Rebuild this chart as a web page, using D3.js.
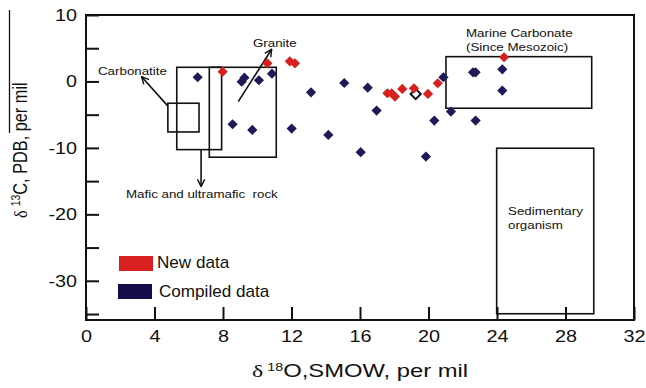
<!DOCTYPE html>
<html>
<head>
<meta charset="utf-8">
<script src="https://cdn.jsdelivr.net/npm/d3@7"></script>
<style>
  body { margin: 0; background: #fff; }
  svg { display: block; font-family: "Liberation Sans", Arial, sans-serif; }
</style>
</head>
<body>
<svg id="chart" width="646" height="388"></svg>
<script>
// new data (red)
var newX = [7.98, 10.59, 11.9, 12.2, 17.6, 17.85, 18.04, 18.47, 19.15, 19.97, 20.54, 24.41];
var newY = [1.47, 2.73, 3.03, 2.73, -1.78, -1.78, -2.28, -1.13, -1.03, -1.88, -0.27, 3.64];

// compiled data (navy)
var compX = [6.52, 9.25, 9.09, 10.1, 10.86, 13.14, 15.08, 8.56, 9.71, 12.01, 14.15, 16.45,
             16.97, 16.04, 20.87, 22.6, 22.75, 24.31, 24.31, 21.31, 20.34, 22.75, 19.85];
var compY = [0.63, 0.57, -0.03, 0.18, 1.17, -1.63, -0.23, -6.44, -7.29, -7.09, -8.05, -0.93,
             -4.39, -10.65, 0.63, 1.38, 1.38, 1.83, -1.38, -4.54, -5.89, -5.89, -11.3];

// one odd outlined point
var oddX = [19.25];
var oddY = [-1.88];

// reference fields
var fieldNames = ["Carbonatite", "Mafic", "Granite", "Marine", "Sedimentary"];
var fieldX0 = [4.78, 5.3, 7.2, 21.02, 23.98];
var fieldX1 = [6.6, 7.92, 11.11, 29.53, 29.65];
var fieldY0 = [-3.28, 2.13, 2.13, 3.73, -10.05];
var fieldY1 = [-7.6, -10.26, -11.4, -4.03, -34.96];

var xTicks = [0, 4, 8, 12, 16, 20, 24, 28, 32];
var yTicks = [-35, -30, -25, -20, -15, -10, -5, 0, 5, 10];
var yLabels = [-30, -20, -10, 0, 10];

var red = "#d8201e";
var navy = "#1c1b57";

var svg = d3.select("#chart");

var x = d3.scaleLinear().domain([0, 32]).range([86, 634]);
var y = d3.scaleLinear().domain([-35.9, 10]).range([320, 15]);

// the source picture is a bit stretched sideways, so text gets widened
var sx = 1.2;

// axes with inward ticks
var xAxis = d3.axisBottom(x).tickValues(xTicks).tickSizeInner(-13).tickSizeOuter(0).tickPadding(10);
var yAxis = d3.axisLeft(y).tickValues(yTicks).tickSizeInner(-13).tickSizeOuter(0).tickPadding(9)
	.tickFormat(function(d) { return yLabels.indexOf(d) >= 0 ? d : ""; });

var gx = svg.append("g").attr("transform", "translate(0,320)").call(xAxis);
var gy = svg.append("g").attr("transform", "translate(86,0)").call(yAxis);
[gx, gy].forEach(function(g) {
	g.select(".domain").remove();
	g.selectAll(".tick line").attr("stroke", "#111").attr("stroke-width", 2);
	g.selectAll(".tick text").attr("fill", "#111").style("font-size", "16.5px")
		.style("font-family", "'Liberation Sans', Arial, sans-serif");
});
gx.selectAll(".tick text").attr("transform", "scale(" + sx + ",1)");
gy.selectAll(".tick text").attr("x", -9 / sx).attr("transform", "scale(" + sx + ",1)");

// frame
svg.append("rect")
	.attr("x", x(0)).attr("y", y(10))
	.attr("width", x(32) - x(0)).attr("height", y(-35.9) - y(10))
	.attr("fill", "none").attr("stroke", "#111").attr("stroke-width", 2);

// field boxes
svg.append("g").selectAll("rect")
	.data(fieldNames)
	.enter()
	.append("rect")
	.attr("x", function(d, i) { return x(fieldX0[i]); })
	.attr("y", function(d, i) { return y(fieldY0[i]); })
	.attr("width", function(d, i) { return x(fieldX1[i]) - x(fieldX0[i]); })
	.attr("height", function(d, i) { return y(fieldY1[i]) - y(fieldY0[i]); })
	.attr("fill", "none").attr("stroke", "#111").attr("stroke-width", 1.6);

// arrows
svg.append("defs").append("marker")
	.attr("id", "head").attr("viewBox", "0 0 10 10")
	.attr("refX", 9).attr("refY", 5)
	.attr("markerWidth", 9).attr("markerHeight", 9)
	.attr("markerUnits", "userSpaceOnUse")
	.attr("orient", "auto")
	.append("path").attr("d", "M1,1L9,5L1,9")
	.attr("fill", "none").attr("stroke", "#111").attr("stroke-width", 1.6);

var arrows = [[4.77, -3.68, 3.25, 0.72], [8.89, -3.04, 10.84, 4.84], [6.72, -10.26, 6.72, -15.82]];
svg.append("g").selectAll("line")
	.data(arrows)
	.enter()
	.append("line")
	.attr("x1", function(d) { return x(d[0]); })
	.attr("y1", function(d) { return y(d[1]); })
	.attr("x2", function(d) { return x(d[2]); })
	.attr("y2", function(d) { return y(d[3]); })
	.attr("stroke", "#111").attr("stroke-width", 1.6)
	.attr("marker-end", "url(#head)");

// annotations
var notes = [
	{t: "Carbonatite", x: 98, y: 75},
	{t: "Granite", x: 253, y: 47},
	{t: "Mafic and ultramafic  rock", x: 126, y: 198},
	{t: "Marine Carbonate", x: 466, y: 37},
	{t: "(Since Mesozoic)", x: 466, y: 51},
	{t: "Sedimentary", x: 508, y: 215},
	{t: "organism", x: 508, y: 229}
];
svg.append("g").selectAll("text")
	.data(notes)
	.enter()
	.append("text")
	.attr("transform", function(d) { return "translate(" + d.x + "," + d.y + ") scale(1.16,1)"; })
	.attr("fill", "#111")
	.style("font-size", "11.5px")
	.style("white-space", "pre")
	.text(function(d) { return d.t; });

// points
var diamond = d3.symbol().type(d3.symbolSquare).size(52);

svg.append("g").selectAll("path")
	.data(oddX)
	.enter()
	.append("path")
	.attr("d", diamond)
	.attr("transform", function(d, i) { return "translate(" + x(d) + "," + y(oddY[i]) + ") rotate(45)"; })
	.attr("fill", "none").attr("stroke", "#111").attr("stroke-width", 2);

svg.append("g").selectAll("path")
	.data(newX)
	.enter()
	.append("path")
	.attr("d", diamond)
	.attr("transform", function(d, i) { return "translate(" + x(d) + "," + y(newY[i]) + ") rotate(45)"; })
	.attr("fill", red);

svg.append("g").selectAll("path")
	.data(compX)
	.enter()
	.append("path")
	.attr("d", diamond)
	.attr("transform", function(d, i) { return "translate(" + x(d) + "," + y(compY[i]) + ") rotate(45)"; })
	.attr("fill", navy);

// legend
var legend = [{t: "New data", c: red, x: 119, y: 256, tx: 157, ty: 268},
              {t: "Compiled data", c: "#170b4a", x: 118, y: 284, tx: 159, ty: 297}];
var lg = svg.append("g").selectAll("g").data(legend).enter().append("g");
lg.append("rect")
	.attr("x", function(d) { return d.x; }).attr("y", function(d) { return d.y; })
	.attr("width", 34).attr("height", 15)
	.attr("fill", function(d) { return d.c; });
lg.append("text")
	.attr("transform", function(d) { return "translate(" + d.tx + "," + d.ty + ") scale(1.07,1)"; })
	.attr("fill", "#111").style("font-size", "16px")
	.text(function(d) { return d.t; });

// axis titles
var xt = svg.append("text").attr("transform", "translate(252,377) scale(1.36,1)")
	.attr("fill", "#111").style("font-size", "17.5px");
xt.append("tspan").style("font-family", "'Liberation Serif', serif").text("δ");
xt.append("tspan").attr("dx", 3).attr("dy", -6).style("font-size", "10.5px").text("18");
xt.append("tspan").attr("dy", 6).text("O,SMOW, per mil");

var yt = svg.append("text").attr("transform", "translate(27,218) scale(" + sx + ",1) rotate(-90)")
	.attr("fill", "#111").style("font-size", "16.3px");
yt.append("tspan").style("font-family", "'Liberation Serif', serif").text("δ");
yt.append("tspan").attr("dx", 4).attr("dy", -6).style("font-size", "10.5px").text("13");
yt.append("tspan").attr("dy", 6).text("C, PDB, per mil");

// stray rule over the y title
svg.append("line").attr("x1", 9.5).attr("x2", 9.5).attr("y1", 10).attr("y2", 133)
	.attr("stroke", "#111").attr("stroke-width", 1.3);
</script>
</body>
</html>
